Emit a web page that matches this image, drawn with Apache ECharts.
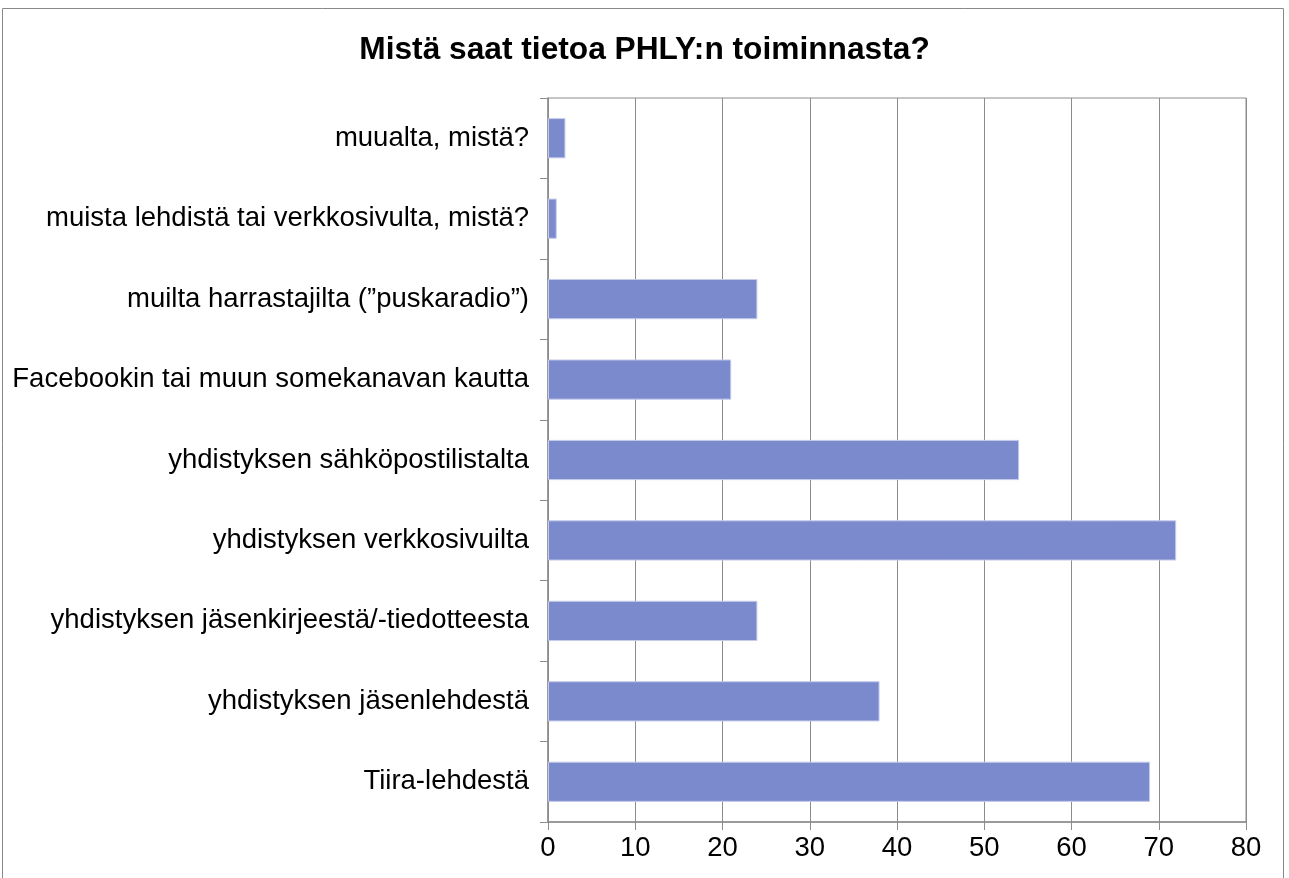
<!DOCTYPE html>
<html lang="fi">
    <head>
        <meta charset="UTF-8" />
        <script type="text/javascript" src="https://cdn.jsdelivr.net/npm/echarts@6/dist/echarts.min.js"></script>
        <title>Mistä saat tietoa PHLY:n toiminnasta?</title>
        <style type="text/css">
            html, body { margin: 0; padding: 0; background: #fff; }
            #chart { width: 1289px; height: 878px; }
        </style>
    </head>
    <body>
        <div id="chart"></div>
        <script type="text/javascript">
            // categories bottom -> top
            const categories = [
                "Tiira-lehdestä",
                "yhdistyksen jäsenlehdestä",
                "yhdistyksen jäsenkirjeestä/-tiedotteesta",
                "yhdistyksen verkkosivuilta",
                "yhdistyksen sähköpostilistalta",
                "Facebookin tai muun somekanavan kautta",
                "muilta harrastajilta (”puskaradio”)",
                "muista lehdistä tai verkkosivulta, mistä?",
                "muualta, mistä?",
            ];
            const values = [69, 38, 24, 72, 54, 21, 24, 1, 2];
            const xTicks = [0, 80, 10]; // min, max, interval

            let chart = echarts.init(document.getElementById("chart"));

            let option = {
                animation: false,
                textStyle: { fontFamily: "Liberation Sans, Arial, sans-serif" },
                graphic: [
                    {
                        type: "rect",
                        shape: { x: 2.5, y: 8.5, width: 1281, height: 900 },
                        style: { fill: "none", stroke: "#888", lineWidth: 1 },
                        silent: true,
                    },
                ],
                title: {
                    text: "Mistä saat tietoa PHLY:n toiminnasta?",
                    left: "center",
                    top: 29,
                    textStyle: {
                        fontFamily: "Liberation Sans, Arial, sans-serif",
                        fontSize: 31.7,
                        fontWeight: "bold",
                        color: "#000",
                    },
                },
                grid: {
                    left: 548,
                    right: 43,
                    top: 98,
                    bottom: 56,
                    show: true,
                    borderColor: "#8c8c8c",
                    borderWidth: 1,
                },
                xAxis: {
                    type: "value",
                    min: xTicks[0],
                    max: xTicks[1],
                    interval: xTicks[2],
                    axisLine: { show: true, lineStyle: { color: "#8c8c8c", width: 1.5 } },
                    axisTick: { show: true, length: 8, lineStyle: { color: "#8c8c8c" } },
                    splitLine: { show: true, lineStyle: { color: "#8c8c8c", width: 1 } },
                    axisLabel: { color: "#000", fontSize: 27.5, margin: 12 },
                },
                yAxis: {
                    type: "category",
                    data: categories,
                    axisLine: { show: true, lineStyle: { color: "#8c8c8c", width: 1.5 } },
                    axisTick: { show: true, length: 8, lineStyle: { color: "#8c8c8c" } },
                    axisLabel: { color: "#000", fontSize: 27.5, margin: 19 },
                    splitLine: { show: false },
                },
                series: [
                    {
                        type: "bar",
                        data: values,
                        barWidth: "50%",
                        itemStyle: {
                            color: "#7b8acd",
                            borderColor: "#c5cbea",
                            borderWidth: 1,
                        },
                    },
                ],
            };
            chart.setOption(option);
        </script>
    </body>
</html>
